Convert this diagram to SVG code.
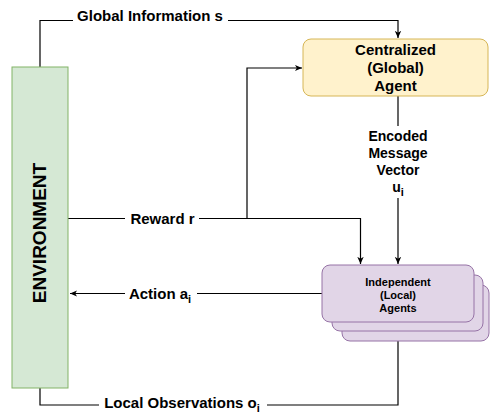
<svg xmlns="http://www.w3.org/2000/svg" width="490" height="412" viewBox="0 0 490 412">
<style>
.ln{fill:none;stroke:#000;stroke-width:1.2}
.lab{font-family:"Liberation Sans",Arial,sans-serif;font-weight:bold;font-size:15px;fill:#000;text-anchor:middle}
.small{font-size:11px}
.mid{font-size:14px}
.env{font-size:19px}
.bg{fill:#fff}
.agent{fill:#e1d5e7;stroke:#9673a6;stroke-width:1}
</style>
<defs>
<marker id="arr" viewBox="0 0 10 10" refX="9" refY="5" markerWidth="8" markerHeight="8" markerUnits="userSpaceOnUse" orient="auto">
<path d="M0,1 L9,5 L0,9 L2.5,5 Z" fill="#000"/>
</marker>
</defs>
<rect width="490" height="412" fill="#fff"/>
<g id="connectors">
<path class="ln" d="M40,67 V20.5 H398 V38" marker-end="url(#arr)"/>
<path class="ln" d="M68,218.5 H360.5 V264" marker-end="url(#arr)"/>
<path class="ln" d="M247,218.5 V68 H302" marker-end="url(#arr)"/>
<path class="ln" d="M398,96 V264" marker-end="url(#arr)"/>
<path class="ln" d="M322,293.5 H70" marker-end="url(#arr)"/>
<path class="ln" d="M40,388 V405 H398 V323" marker-end="url(#arr)"/>
<rect class="bg" x="73" y="8" width="155" height="18"/>
<text class="lab" x="150" y="21">Global Information s</text>
<rect class="bg" x="125" y="209" width="74" height="18"/>
<text class="lab" x="162.5" y="224">Reward r</text>
<rect class="bg" x="125" y="284" width="72" height="18"/>
<text class="lab" x="160" y="298.5">Action a<tspan font-size="11px" dy="4">i</tspan></text>
<rect class="bg" x="99" y="396" width="168" height="16"/>
<text class="lab" x="182" y="407.5">Local Observations o<tspan font-size="11px" dy="4">i</tspan></text>
<rect class="bg" x="362" y="126" width="72" height="72"/>
<text class="lab mid" x="398" y="141">Encoded</text>
<text class="lab mid" x="398" y="158">Message</text>
<text class="lab mid" x="398" y="175">Vector</text>
<text class="lab mid" x="398" y="191.5">u<tspan font-size="11px" dy="4">i</tspan></text>
</g>
<g id="environment">
<rect x="12" y="67" width="56" height="321" fill="#d5e8d4" stroke="#82b366" stroke-width="1"/>
<text class="lab env" transform="translate(45.5,233) rotate(-90)">ENVIRONMENT</text>
</g>
<g id="centralized">
<rect x="303" y="39" width="185" height="57" rx="8" fill="#fff2cc" stroke="#d6b656" stroke-width="1"/>
<text class="lab" x="395.5" y="55">Centralized</text>
<text class="lab" x="395.5" y="73">(Global)</text>
<text class="lab" x="395.5" y="90.5">Agent</text>
</g>
<g id="agents">
<rect class="agent" x="342" y="285" width="147" height="56" rx="8"/>
<rect class="agent" x="332" y="275" width="151" height="56" rx="8"/>
<rect class="agent" x="322" y="265" width="152" height="57" rx="8"/>
<text class="lab small" x="398" y="286">Independent</text>
<text class="lab small" x="398" y="299">(Local)</text>
<text class="lab small" x="398" y="311.5">Agents</text>
</g>
</svg>
